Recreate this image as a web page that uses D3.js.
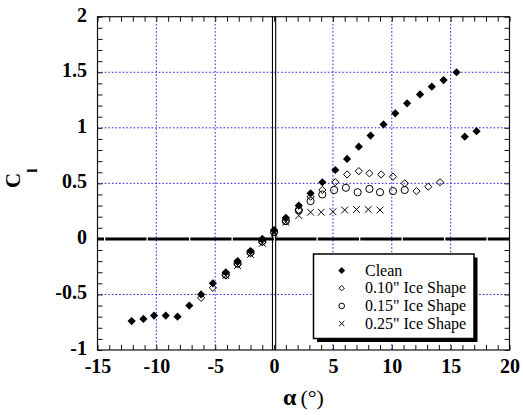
<!DOCTYPE html>
<html>
<head>
<meta charset="utf-8">
<script src="https://cdn.jsdelivr.net/npm/d3@7"></script>
<style>
  html, body { margin: 0; padding: 0; background: #fff; }
  svg { display: block; }
  svg text { font-family: 'Liberation Serif', 'Times New Roman', serif; }
</style>
</head>
<body>
<svg id="chart" width="523" height="415"></svg>
<script>
// ---------------- data ----------------
const alphaClean = [-12.1, -11.1, -10.2, -9.2, -8.2, -7.2, -6.2, -5.2, -4.1, -3.1, -2.0, -1.0, 0.0, 1.0, 2.1, 3.1, 4.1, 5.2, 6.2, 7.2, 8.2, 9.3, 10.3, 11.3, 12.4, 13.4, 14.4, 15.5, 16.2, 17.2];
const clClean    = [-0.74, -0.72, -0.69, -0.69, -0.70, -0.60, -0.50, -0.40, -0.30, -0.20, -0.11, 0.00, 0.08, 0.19, 0.30, 0.41, 0.51, 0.62, 0.72, 0.83, 0.93, 1.03, 1.13, 1.22, 1.30, 1.37, 1.43, 1.50, 0.92, 0.97];

const alphaIce010 = [-6.2, -5.2, -4.1, -3.1, -2.0, -1.0, 0.0, 1.0, 2.1, 3.1, 4.1, 5.2, 6.2, 7.2, 8.1, 9.1, 10.1, 11.1, 12.1, 13.1, 14.1];
const clIce010    = [-0.53, -0.44, -0.33, -0.23, -0.13, -0.03, 0.06, 0.16, 0.26, 0.38, 0.44, 0.51, 0.58, 0.61, 0.59, 0.58, 0.56, 0.50, 0.43, 0.47, 0.51];

const alphaIce015 = [-4.1, -3.1, -2.0, -1.0, 0.0, 1.0, 2.1, 3.1, 4.1, 5.1, 6.1, 7.1, 8.1, 9.0, 10.1, 11.1];
const clIce015    = [-0.32, -0.22, -0.12, -0.02, 0.06, 0.16, 0.26, 0.34, 0.40, 0.44, 0.46, 0.42, 0.45, 0.42, 0.43, 0.44];

const alphaIce025 = [-4.1, -3.1, -2.0, -1.0, 0.0, 1.0, 2.1, 3.1, 4.0, 5.0, 6.0, 7.0, 8.0, 9.0];
const clIce025    = [-0.33, -0.24, -0.14, -0.04, 0.05, 0.15, 0.21, 0.24, 0.24, 0.245, 0.26, 0.265, 0.265, 0.26];

const seriesNames = ["Clean", "0.10\" Ice Shape", "0.15\" Ice Shape", "0.25\" Ice Shape"];
const xTickLabels = [-15, -10, -5, 0, 5, 10, 15, 20];
const yTickLabels = [-1, -0.5, 0, 0.5, 1, 1.5, 2];
const xGrid = [-10, -5, 5, 10, 15];
const yGrid = [-0.5, 0.5, 1, 1.5];

// ---------------- layout ----------------
const svg = d3.select("#chart");
const L = 97.5, R = 509.5, T = 16.7, B = 350;
const x = d3.scaleLinear().domain([-15, 20]).range([L, R]);
const y = d3.scaleLinear().domain([-1, 2]).range([B, T]);
const serif = "'Liberation Serif', 'Times New Roman', serif";

// grid
const grid = svg.append("g");
grid.selectAll("line.gx").data(xGrid).enter().append("line")
  .attr("x1", d => x(d)).attr("x2", d => x(d)).attr("y1", T).attr("y2", B)
  .attr("stroke", "#2626e0").attr("stroke-width", 1).attr("stroke-dasharray", "1.6,2");
grid.selectAll("line.gy").data(yGrid).enter().append("line")
  .attr("x1", L).attr("x2", R).attr("y1", d => y(d)).attr("y2", d => y(d))
  .attr("stroke", "#2626e0").attr("stroke-width", 1).attr("stroke-dasharray", "1.6,2");

// zero lines
svg.append("line").attr("x1", L).attr("x2", R).attr("y1", y(0)).attr("y2", y(0))
  .attr("stroke", "#000").attr("stroke-width", 3)
  .attr("stroke-dasharray", "41.2,1.3").attr("stroke-dashoffset", 34.7);
[-1.6, 1.6].forEach(off => {
  svg.append("line").attr("x1", x(0) + off).attr("x2", x(0) + off).attr("y1", T).attr("y2", B)
    .attr("stroke", "#000").attr("stroke-width", 1.1);
});

// box
svg.append("rect").attr("x", L).attr("y", T).attr("width", R - L).attr("height", B - T)
  .attr("fill", "none").attr("stroke", "#111").attr("stroke-width", 1.2);

// minor ticks (inside)
const xMinor = d3.range(-15, 20.001, 1);
const yMinor = d3.range(-10, 20.001, 1).map(v => v / 10);
function tickStyle(g) {
  g.select(".domain").remove();
  g.selectAll(".tick line").attr("stroke", "#111").attr("stroke-width", 1);
}
svg.append("g").attr("transform", `translate(0,${B})`)
  .call(d3.axisBottom(x).tickValues(xMinor).tickSize(-5).tickFormat("")).call(tickStyle);
svg.append("g").attr("transform", `translate(0,${T})`)
  .call(d3.axisTop(x).tickValues(xMinor).tickSize(-5).tickFormat("")).call(tickStyle);
svg.append("g").attr("transform", `translate(${L},0)`)
  .call(d3.axisLeft(y).tickValues(yMinor).tickSize(-5).tickFormat("")).call(tickStyle);
svg.append("g").attr("transform", `translate(${R},0)`)
  .call(d3.axisRight(y).tickValues(yMinor).tickSize(-5).tickFormat("")).call(tickStyle);

// tick labels
function labelStyle(g) {
  g.select(".domain").remove();
  g.attr("font-family", null).attr("font-size", null);
  g.selectAll("text").style("font-family", serif).style("font-weight", "700")
    .style("font-size", "20px").attr("fill", "#000");
}
const xAx = svg.append("g").attr("transform", `translate(0,${B})`)
  .call(d3.axisBottom(x).tickValues(xTickLabels).tickSize(0).tickPadding(8.8).tickFormat(d => String(d)))
  .call(labelStyle);

const yAx = svg.append("g").attr("transform", `translate(${L},0)`)
  .call(d3.axisLeft(y).tickValues(yTickLabels).tickSize(0).tickPadding(10.5).tickFormat(d => String(d)))
  .call(labelStyle);
yAx.selectAll("text").attr("dy", "0.22em");

// axis titles
const xt = svg.append("text").attr("x", (L + R) / 2).attr("y", 405)
  .attr("text-anchor", "middle").style("font-family", serif).attr("fill", "#000");
xt.append("tspan").style("font-weight", "700").style("font-size", "24px").text("α");
xt.append("tspan").style("font-size", "22px").attr("dx", 4).text("(°)");

const yt = svg.append("text").attr("transform", "translate(20,188) rotate(-90)")
  .style("font-family", serif).style("font-weight", "700").attr("fill", "#000");
yt.append("tspan").style("font-size", "21px").text("C");
yt.append("tspan").style("font-size", "15px").attr("dy", 16.5).text("l");

// markers
const diamond = h => `M0,${-h}L${h},0L0,${h}L${-h},0Z`;
const cross = h => `M${-h},${-h}L${h},${h}M${-h},${h}L${h},${-h}`;
const pts = (a, c) => a.map((v, i) => [v, c[i]]);

const dataG = svg.append("g");
dataG.selectAll("path.clean").data(pts(alphaClean, clClean)).enter().append("path")
  .attr("d", diamond(4.1)).attr("transform", d => `translate(${x(d[0])},${y(d[1])})`)
  .attr("fill", "#000");
dataG.selectAll("path.i25").data(pts(alphaIce025, clIce025)).enter().append("path")
  .attr("d", cross(3.4)).attr("transform", d => `translate(${x(d[0])},${y(d[1])})`)
  .attr("fill", "none").attr("stroke", "#000").attr("stroke-width", 1);
dataG.selectAll("circle.i15").data(pts(alphaIce015, clIce015)).enter().append("circle")
  .attr("cx", d => x(d[0])).attr("cy", d => y(d[1])).attr("r", 3.6)
  .attr("fill", "none").attr("stroke", "#000").attr("stroke-width", 1);
dataG.selectAll("path.i10").data(pts(alphaIce010, clIce010)).enter().append("path")
  .attr("d", diamond(3.6)).attr("transform", d => `translate(${x(d[0])},${y(d[1])})`)
  .attr("fill", "none").attr("stroke", "#000").attr("stroke-width", 1);

// legend
const lg = { x: 313.5, y: 254, w: 160.5, h: 84.5, sh: 3.5 };
svg.append("rect").attr("x", lg.x + lg.sh).attr("y", lg.y + lg.sh).attr("width", lg.w).attr("height", lg.h).attr("fill", "#000");
svg.append("rect").attr("x", lg.x).attr("y", lg.y).attr("width", lg.w).attr("height", lg.h)
  .attr("fill", "#fff").attr("stroke", "#000").attr("stroke-width", 1.5);
const rowY = i => 270.5 + i * 17.7;
const mx = 341.7;
seriesNames.forEach((name, i) => {
  const cy = rowY(i);
  if (i === 0) svg.append("path").attr("d", diamond(3.4)).attr("transform", `translate(${mx},${cy})`).attr("fill", "#000");
  if (i === 1) svg.append("path").attr("d", diamond(2.7)).attr("transform", `translate(${mx},${cy})`).attr("fill", "none").attr("stroke", "#000").attr("stroke-width", 1);
  if (i === 2) svg.append("circle").attr("cx", mx).attr("cy", cy).attr("r", 2.8).attr("fill", "none").attr("stroke", "#000").attr("stroke-width", 1);
  if (i === 3) svg.append("path").attr("d", cross(2.6)).attr("transform", `translate(${mx},${cy})`).attr("fill", "none").attr("stroke", "#000").attr("stroke-width", 1);
  svg.append("text").attr("x", 365).attr("y", cy).attr("dy", "0.33em")
    .style("font-family", serif).style("font-size", "16px").attr("fill", "#000").text(name);
});
</script>
</body>
</html>
